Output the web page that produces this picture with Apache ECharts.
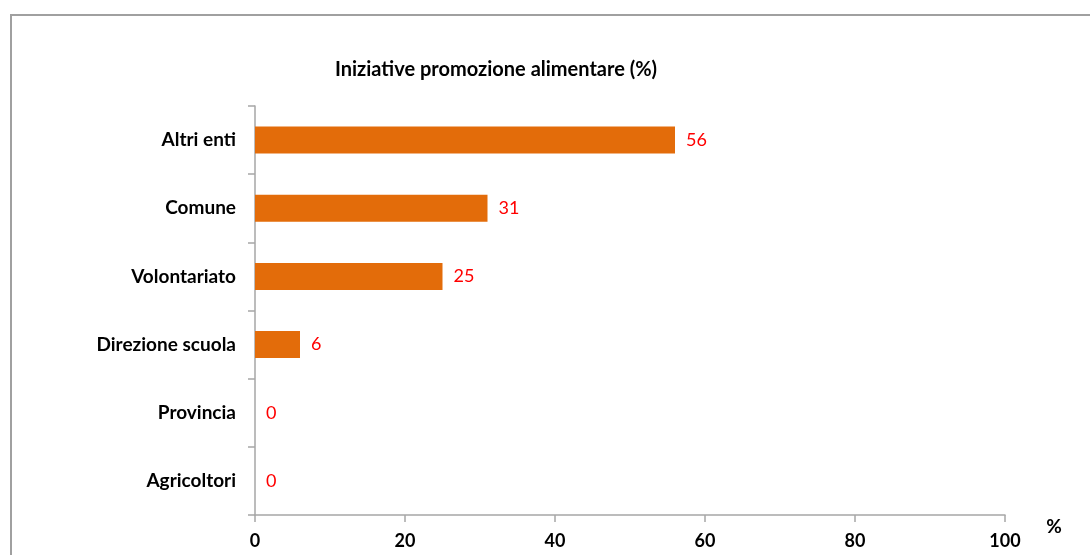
<!DOCTYPE html>
<html>
<head>
<meta charset="utf-8">
<script src="https://cdn.jsdelivr.net/npm/echarts@6/dist/echarts.min.js"></script>
<style>html,body{margin:0;padding:0;background:#fff}#c{width:1090px;height:555px}</style>
</head>
<body>
<div id="c"></div>
<script>
const categories = ["Altri enti", "Comune", "Volontariato", "Direzione scuola", "Provincia", "Agricoltori"];
const values = [56, 31, 25, 6, 0, 0];
const xTicks = [0, 20, 40, 60, 80, 100];
const titleText = "Iniziative promozione alimentare (%)";
const unitText = "%";

const chart = echarts.init(document.getElementById('c'));
const FONT = 'Lato, "Open Sans", sans-serif';
chart.setOption({
  animation: false,
  backgroundColor: '#fff',
  title: {
    text: titleText, left: 491, top: 55, textAlign: 'center',
    textStyle: { fontFamily: FONT, fontSize: 20, fontWeight: 'bold', color: '#000' }
  },
  graphic: [
    { type: 'rect', shape: { x: 11, y: 15, width: 1200, height: 700 }, style: { fill: 'none', stroke: '#a0a0a0', lineWidth: 2 }, silent: true },
    { type: 'text', x: 1054, y: 527, style: { text: unitText, font: 'bold 19px ' + FONT, fill: '#000', textAlign: 'center', textVerticalAlign: 'middle' } }
  ],
  grid: { left: 255, top: 106, width: 750, height: 409, containLabel: false },
  xAxis: {
    type: 'value', min: xTicks[0], max: xTicks[xTicks.length - 1], interval: xTicks[1] - xTicks[0],
    splitLine: { show: false },
    axisLine: { show: true, lineStyle: { color: '#a6a6a6', width: 1.5 } },
    axisTick: { show: true, length: 7, lineStyle: { color: '#a6a6a6', width: 1.5 } },
    axisLabel: { margin: 17, fontFamily: FONT, fontSize: 18, fontWeight: 'bold', color: '#000' }
  },
  yAxis: {
    type: 'category', data: categories, inverse: true,
    axisLine: { show: true, lineStyle: { color: '#a6a6a6', width: 1.5 } },
    axisTick: { show: true, length: 7, alignWithLabel: false, lineStyle: { color: '#a6a6a6', width: 1.5 } },
    axisLabel: { margin: 19, fontFamily: FONT, fontSize: 19, fontWeight: 'bold', color: '#000' }
  },
  series: [{
    type: 'bar', data: values, barWidth: 27,
    itemStyle: { color: '#e36c0a' },
    label: { show: true, position: 'right', distance: 11, color: '#ff0000', fontFamily: FONT, fontSize: 18 }
  }]
});
</script>
</body>
</html>
